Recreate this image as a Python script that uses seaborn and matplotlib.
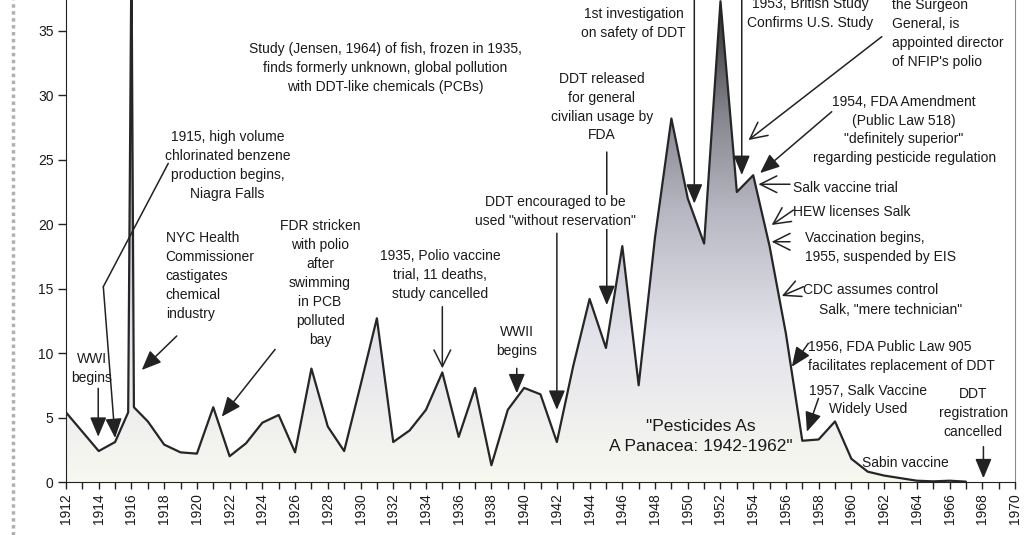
# polio_ddt_timeline.py
# Polio incidence (per 100,000) 1912-1970 with pesticide / vaccine milestones.
# Gradient-filled area under the curve, hand placed annotation arrows.

import numpy as np
import matplotlib
matplotlib.use("Agg")
import matplotlib.pyplot as plt
import seaborn as sns
from matplotlib.colors import LinearSegmentedColormap
from matplotlib.patches import PathPatch
from matplotlib.lines import Line2D
from matplotlib.ticker import MultipleLocator

# data (the 1916 epidemic is a narrow spike)
years = [1912, 1913, 1914, 1915, 1915.8, 1916.0, 1916.15, 1917, 1918, 1919,
         1920, 1921, 1922, 1923, 1924, 1925, 1926, 1927, 1928, 1929,
         1930, 1931, 1932, 1933, 1934, 1935, 1936, 1937, 1938, 1939,
         1940, 1941, 1942, 1943, 1944, 1945, 1946, 1947, 1948, 1949,
         1950, 1951, 1952, 1953, 1954, 1955, 1956, 1957, 1958, 1959,
         1960, 1961, 1962, 1963, 1964, 1965, 1966, 1967]
cases = [5.4, 3.9, 2.4, 3.1, 5.4, 41.2, 5.8, 4.7, 2.9, 2.3,
         2.2, 5.8, 2.0, 3.0, 4.6, 5.2, 2.3, 8.8, 4.3, 2.4,
         7.5, 12.7, 3.1, 4.0, 5.6, 8.5, 3.5, 7.3, 1.3, 5.6,
         7.3, 6.8, 3.1, 9.0, 14.2, 10.4, 18.3, 7.5, 19.0, 28.2,
         22.0, 18.5, 37.3, 22.5, 23.8, 18.3, 11.5, 3.2, 3.3, 4.7,
         1.8, 0.8, 0.5, 0.3, 0.1, 0.05, 0.1, 0.03]

y_ticks = [0, 5, 10, 15, 20, 25, 30, 35]
x_ticks = list(range(1912, 1971, 2))

sns.set_style("ticks")
plt.rcParams['font.family'] = ['Liberation Sans', 'DejaVu Sans']

INK = '#1a1a1a'

fig = plt.figure(figsize=(10.32, 5.35), dpi=100)
# top of the axes sits just above the canvas, like the cropped original
ax = fig.add_axes([66 / 1032, 53 / 535, 949 / 1032, 0.9155])

# gradient fill clipped to the area under the curve
fill_cmap = LinearSegmentedColormap.from_list(
    'fill', [(0.0, '#f8f8f1'), (0.3, '#e3e3eb'), (0.55, '#b8b8c4'),
             (0.75, '#86868e'), (0.9, '#4c4c50'), (1.0, '#2a2a2a')])
poly = ax.fill_between(years, cases, 0, facecolor='none', edgecolor='none')
clip = PathPatch(poly.get_paths()[0], transform=ax.transData,
                 facecolor='none', edgecolor='none')
ax.add_patch(clip)
grad = np.linspace(0, 1, 256).reshape(-1, 1)
img = ax.imshow(grad, extent=[1912, 1970, 0, 38], origin='lower',
                aspect='auto', cmap=fill_cmap, zorder=1)
img.set_clip_path(clip)

sns.lineplot(x=years, y=cases, ax=ax, color='#262626', linewidth=1.6,
             sort=False, zorder=3)

ax.set_xlim(1912, 1970)
ax.set_ylim(0, 38)
ax.set_yticks(y_ticks)
ax.set_xticks(x_ticks)
ax.set_xticklabels([str(t) for t in x_ticks], rotation=90)
ax.xaxis.set_minor_locator(MultipleLocator(1))
ax.tick_params(axis='x', which='both', length=5, width=1, color='#222', pad=3,
               labelsize=10, labelcolor=INK)
ax.tick_params(axis='y', length=6, width=1, color='#222', pad=3,
               labelsize=10, labelcolor=INK)
ax.set_xlabel('')
ax.set_ylabel('')
ax.spines['top'].set_visible(False)
ax.spines['left'].set_color('#222')
ax.spines['bottom'].set_color('#222')
ax.spines['right'].set_color('#8c8c8c')

# dotted outer border of the old chart area
fig.add_artist(Line2D([13 / 1032, 13 / 1032], [0, 1], color='#b0b0b0',
                      linestyle=(0, (1, 1)), linewidth=2.5))


def note(x, y, s, ha='center', size=10, **kw):
    ax.text(x, y, s, ha=ha, va='center', fontsize=size, color=INK,
            linespacing=1.45, zorder=5, **kw)


def arrow(tail, head, filled=True):
    style = ('-|>,head_length=1.0,head_width=0.42' if filled
             else '->,head_length=1.0,head_width=0.5')
    ax.annotate('', xy=head, xytext=tail, annotation_clip=False, zorder=4,
                arrowprops=dict(arrowstyle=style, color='#222', lw=1.1,
                                mutation_scale=12, shrinkA=0, shrinkB=0))


note(1931.5, 32.1, 'Study (Jensen, 1964) of fish, frozen in 1935,\n'
     'finds formerly unknown, global pollution\n'
     'with DDT-like chemicals (PCBs)')

note(1921.87, 24.55, '1915, high volume\nchlorinated benzene\n'
     'production begins,\nNiagra Falls')
ax.plot([1918.25, 1914.28], [24.72, 15.15], color='#222', lw=1.1, zorder=4)
arrow((1914.28, 15.15), (1915.0, 3.41))

note(1918.09, 15.98, 'NYC Health\nCommissioner\ncastigates\nchemical\nindustry',
     ha='left')
arrow((1918.77, 11.33), (1916.63, 8.69))

note(1913.57, 8.77, 'WWI\nbegins')
arrow((1913.97, 7.27), (1913.97, 3.51))

note(1927.53, 15.44, 'FDR stricken\nwith polio\nafter\nswimming\nin PCB\n'
     'polluted\nbay')
arrow((1924.78, 10.29), (1921.52, 5.07))

note(1934.86, 16.06, '1935, Polio vaccine\ntrial, 11 deaths,\nstudy cancelled')
arrow((1935.0, 13.6), (1935.0, 8.82), filled=False)

note(1939.55, 10.88, 'WWII\nbegins')
arrow((1939.55, 8.82), (1939.55, 6.88))

note(1944.74, 29.09, 'DDT released\nfor general\ncivilian usage by\nFDA')
arrow((1945.05, 25.6), (1945.05, 13.73))

note(1941.89, 20.95, 'DDT encouraged to be\nused "without reservation"',
     bbox=dict(facecolor='white', edgecolor='none', pad=0.5))
ax.texts[-1].set_zorder(6)
arrow((1942.0, 19.3), (1942.0, 5.6))

note(1946.68, 35.58, '1st investigation\non safety of DDT')
arrow((1950.4, 39.0), (1950.4, 21.6))

note(1957.48, 36.36, '1953, British Study\nConfirms U.S. Study')
arrow((1953.3, 39.0), (1953.3, 23.82))

note(1962.47, 34.8, 'the Surgeon\nGeneral, is\nappointed director\n'
     "of NFIP's polio", ha='left')
arrow((1961.86, 34.55), (1953.71, 26.53), filled=False)

note(1963.22, 27.31, '1954, FDA Amendment\n(Public Law 518)\n'
     '"definitely superior"\nregarding pesticide regulation')
arrow((1958.8, 28.73), (1954.42, 23.97))

note(1956.46, 22.83, 'Salk vaccine trial', ha='left')
arrow((1956.25, 23.1), (1954.32, 23.1), filled=False)

note(1956.46, 20.97, 'HEW licenses Salk', ha='left')
arrow((1956.46, 21.1), (1955.13, 19.94), filled=False)

note(1957.17, 18.17, 'Vaccination begins,\n1955, suspended by EIS', ha='left')
arrow((1956.25, 18.64), (1955.13, 18.64), filled=False)

note(1957.07, 14.9, 'CDC assumes control', ha='left')
note(1958.05, 13.34, 'Salk, "mere technician"', ha='left')
arrow((1957.07, 15.15), (1955.75, 14.43), filled=False)

note(1957.37, 9.72, '1956, FDA Public Law 905\nfacilitates replacement of DDT',
     ha='left')
arrow((1957.37, 10.76), (1956.36, 8.94))

note(1961.02, 6.36, '1957, Salk Vaccine\nWidely Used')
arrow((1957.99, 6.49), (1957.28, 3.9))

note(1967.44, 5.33, 'DDT\nregistration\ncancelled')
arrow((1968.07, 2.74), (1968.07, 0.29))

note(1960.64, 1.45, 'Sabin vaccine', ha='left')

note(1950.8, 3.51, '"Pesticides As\nA Panacea: 1942-1962"', size=12.5)

fig.savefig('out.png', dpi=100)
